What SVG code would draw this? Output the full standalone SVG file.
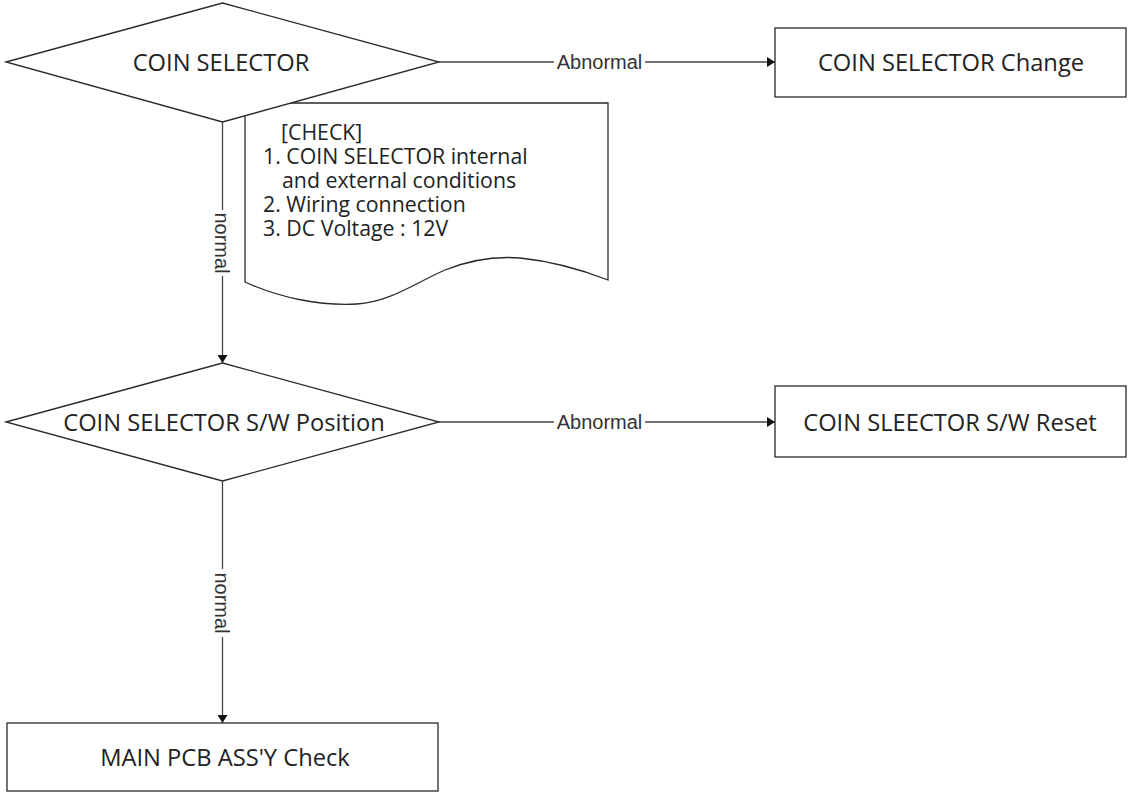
<svg xmlns="http://www.w3.org/2000/svg" width="1128" height="792" viewBox="0 0 1128 792">
<defs>
<style>
.shape{fill:#fff;stroke:#2a2a2a;stroke-width:1.3}
.node-text{font-family:"Open Sans","Noto Sans",sans-serif;font-size:23.7px;fill:#222;text-anchor:middle}
.doc-text{font-family:"Open Sans","Noto Sans",sans-serif;font-size:21.3px;fill:#222}
.conn{fill:none;stroke:#444;stroke-width:1.3}
.lbl{font-family:"Liberation Sans",Arial,sans-serif;font-size:20px;fill:#333;text-anchor:middle}
.lbl-bg{fill:#fff}
</style>
<marker id="arrow" viewBox="0 0 8 10" refX="8" refY="5" markerWidth="8" markerHeight="10" markerUnits="userSpaceOnUse" orient="auto">
<path d="M0,0 L8,5 L0,10 Z" fill="#111"/>
</marker>
</defs>

<g id="note-check">
<path class="shape" d="M245,103 L608,103 L608,280 C590,273 560,262 520,258 C495,256 470,260 445,270 C415,283 390,302 357,304 C320,306 280,298 245,282 Z"/>
<text class="doc-text" x="281" y="140">[CHECK]</text>
<text class="doc-text" x="263" y="164">1. COIN SELECTOR internal</text>
<text class="doc-text" x="282" y="188">and external conditions</text>
<text class="doc-text" x="263" y="212">2. Wiring connection</text>
<text class="doc-text" x="263" y="236">3. DC Voltage : 12V</text>
</g>

<g id="decision-coin-selector">
<path class="shape" d="M6,62 L222.5,3 L439,62 L222.5,122 Z"/>
<text class="node-text" x="221" y="71">COIN SELECTOR</text>
</g>

<g id="box-coin-selector-change">
<rect class="shape" x="775" y="28" width="351" height="69"/>
<text class="node-text" x="951" y="71">COIN SELECTOR Change</text>
</g>

<g id="decision-sw-position">
<path class="shape" d="M6,422 L222.5,363 L439,422 L222.5,481 Z"/>
<text class="node-text" x="224" y="431">COIN SELECTOR S/W Position</text>
</g>

<g id="box-sw-reset">
<rect class="shape" x="775" y="386" width="351" height="71"/>
<text class="node-text" x="950" y="431">COIN SLEECTOR S/W Reset</text>
</g>

<g id="box-main-pcb">
<rect class="shape" x="7" y="723" width="431" height="68"/>
<text class="node-text" x="225" y="766">MAIN PCB ASS'Y Check</text>
</g>

<g id="connectors">
<path class="conn" d="M439,62 L775,62" marker-end="url(#arrow)"/>
<rect class="lbl-bg" x="554" y="51" width="91" height="22"/>
<text class="lbl" x="599.5" y="69">Abnormal</text>

<path class="conn" d="M222.5,122 L222.5,363" marker-end="url(#arrow)"/>
<rect class="lbl-bg" x="210" y="210" width="24" height="66"/>
<text class="lbl" transform="translate(215,243) rotate(90)">normal</text>

<path class="conn" d="M439,422 L775,422" marker-end="url(#arrow)"/>
<rect class="lbl-bg" x="554" y="411" width="91" height="22"/>
<text class="lbl" x="599.5" y="429">Abnormal</text>

<path class="conn" d="M222.5,481 L222.5,723" marker-end="url(#arrow)"/>
<rect class="lbl-bg" x="210" y="569" width="24" height="68"/>
<text class="lbl" transform="translate(215,603) rotate(90)">normal</text>
</g>
</svg>
